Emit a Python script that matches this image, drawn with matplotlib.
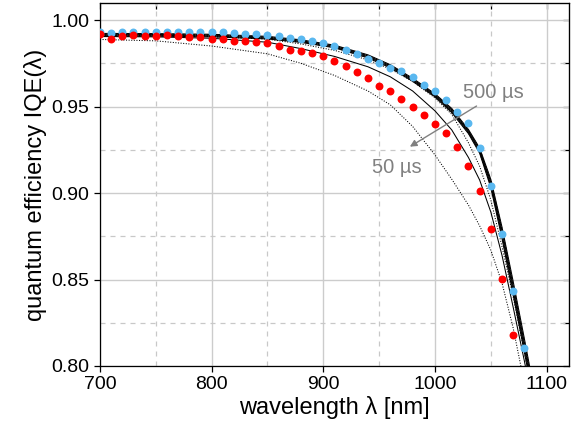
import numpy as np
import matplotlib
matplotlib.use('Agg')
import matplotlib.pyplot as plt
from matplotlib.ticker import MultipleLocator

plt.rcParams['font.family'] = ['Liberation Sans', 'DejaVu Sans']

# measured points (every 10 nm)
wl_blue = [700, 710, 720, 730, 740, 750, 760, 770, 780, 790, 800, 810, 820, 830, 840,
           850, 860, 870, 880, 890, 900, 910, 920, 930, 940, 950, 960, 970, 980, 990,
           1000, 1010, 1020, 1030, 1040, 1050, 1060, 1070, 1080]
iqe_blue = [0.9932, 0.9927, 0.9929, 0.9931, 0.9929, 0.9931, 0.9932, 0.9931, 0.9929, 0.9931,
            0.9929, 0.9929, 0.9923, 0.9919, 0.9917, 0.9911, 0.9908, 0.9894, 0.9890, 0.9877,
            0.9865, 0.9850, 0.9825, 0.9805, 0.9777, 0.9753, 0.9725, 0.9705, 0.9670, 0.9626,
            0.9590, 0.9538, 0.9470, 0.9407, 0.9258, 0.9042, 0.8763, 0.8435, 0.8102]

wl_red = [700, 710, 720, 730, 740, 750, 760, 770, 780, 790, 800, 810, 820, 830, 840,
          850, 860, 870, 880, 890, 900, 910, 920, 930, 940, 950, 960, 970, 980, 990,
          1000, 1010, 1020, 1030, 1040, 1050, 1060, 1070]
iqe_red = [0.9917, 0.9892, 0.9908, 0.9911, 0.9910, 0.9908, 0.9911, 0.9910, 0.9904, 0.9904,
           0.9890, 0.9888, 0.9880, 0.9877, 0.9875, 0.9870, 0.9852, 0.9827, 0.9823, 0.9811,
           0.9792, 0.9763, 0.9735, 0.9699, 0.9665, 0.9621, 0.9588, 0.9542, 0.9500, 0.9453,
           0.9401, 0.9345, 0.9268, 0.9158, 0.9009, 0.8794, 0.8503, 0.8179]

# simulated curves, 50 us ... 500 us
wl_sim = [700, 750, 800, 850, 880, 910, 940, 960, 980, 1000, 1015, 1030, 1040, 1050,
          1060, 1070, 1080, 1090]
sim_050 = [0.9888, 0.9880, 0.9850, 0.9805, 0.9750, 0.9680, 0.9590, 0.9510, 0.9385, 0.9220,
           0.9080, 0.8930, 0.8810, 0.8670, 0.8480, 0.8220, 0.7900, 0.7550]
sim_100 = [0.9905, 0.9903, 0.9895, 0.9872, 0.9835, 0.9790, 0.9730, 0.9672, 0.9590, 0.9475,
           0.9365, 0.9205, 0.9075, 0.8890, 0.8640, 0.8340, 0.8030, 0.7700]
sim_150 = [0.9911, 0.9910, 0.9905, 0.9890, 0.9862, 0.9825, 0.9770, 0.9717, 0.9645, 0.9550,
           0.9455, 0.9290, 0.9155, 0.8960, 0.8690, 0.8400, 0.8080, 0.7750]
sim_200 = [0.9908, 0.9907, 0.9903, 0.9891, 0.9871, 0.9840, 0.9781, 0.9724, 0.9646, 0.9556,
           0.9465, 0.9343, 0.9230, 0.9031, 0.8737, 0.8411, 0.8081, 0.7741]
sim_250 = [0.9910, 0.9909, 0.9905, 0.9893, 0.9873, 0.9842, 0.9784, 0.9727, 0.9649, 0.9559,
           0.9469, 0.9347, 0.9235, 0.9039, 0.8748, 0.8424, 0.8094, 0.7754]
sim_300 = [0.9913, 0.9912, 0.9908, 0.9896, 0.9876, 0.9845, 0.9787, 0.9730, 0.9652, 0.9562,
           0.9473, 0.9351, 0.9240, 0.9047, 0.8759, 0.8437, 0.8107, 0.7767]
sim_350 = [0.9915, 0.9914, 0.9910, 0.9898, 0.9878, 0.9847, 0.9790, 0.9733, 0.9655, 0.9565,
           0.9477, 0.9355, 0.9245, 0.9055, 0.8770, 0.8450, 0.8120, 0.7780]
sim_400 = [0.9918, 0.9917, 0.9913, 0.9901, 0.9881, 0.9850, 0.9793, 0.9736, 0.9658, 0.9568,
           0.9481, 0.9359, 0.9250, 0.9063, 0.8781, 0.8463, 0.8133, 0.7793]
sim_450 = [0.9920, 0.9919, 0.9915, 0.9903, 0.9883, 0.9852, 0.9796, 0.9739, 0.9661, 0.9571,
           0.9485, 0.9363, 0.9255, 0.9071, 0.8792, 0.8476, 0.8146, 0.7806]
sim_500 = [0.9923, 0.9922, 0.9918, 0.9906, 0.9886, 0.9855, 0.9799, 0.9742, 0.9664, 0.9574,
           0.9489, 0.9367, 0.9260, 0.9079, 0.8803, 0.8489, 0.8159, 0.7819]

sims = [sim_050, sim_100, sim_150, sim_200, sim_250, sim_300, sim_350, sim_400, sim_450, sim_500]

fig = plt.figure(figsize=(5.86, 4.36), dpi=100)
ax = fig.add_axes([0.1706, 0.1606, 0.8004, 0.8318])

for i, s in enumerate(sims):
    if i % 2 == 0:
        ax.plot(wl_sim, s, color='black', lw=0.75, ls=(0, (1, 1.5)), zorder=3)
    else:
        ax.plot(wl_sim, s, color='black', lw=0.75, ls='-', zorder=3)

ax.plot(wl_blue, iqe_blue, 'o', color='#5ab8f0', ms=5.7, mec='none', zorder=4)
ax.plot(wl_red, iqe_red, 'o', color='#ff0000', ms=5.7, mec='none', zorder=5)

ax.set_xlim(700, 1120)
ax.set_ylim(0.80, 1.0097)
ax.xaxis.set_major_locator(MultipleLocator(100))
ax.xaxis.set_minor_locator(MultipleLocator(50))
ax.yaxis.set_major_locator(MultipleLocator(0.05))
ax.yaxis.set_minor_locator(MultipleLocator(0.025))
ax.yaxis.set_major_formatter(matplotlib.ticker.FormatStrFormatter('%.2f'))

ax.grid(which='major', color='#cccccc', lw=1.0, ls='-', zorder=0)
ax.grid(which='minor', color='#c8c8c8', lw=0.9, ls=(0, (4, 4)), zorder=0)
ax.set_axisbelow(True)

ax.tick_params(which='major', direction='out', length=4, width=0.9, labelsize=14)
ax.tick_params(which='minor', length=0)
for sp in ax.spines.values():
    sp.set_linewidth(0.9)

top = ax.secondary_xaxis('top')
top.xaxis.set_major_locator(MultipleLocator(50))
top.tick_params(direction='in', length=4, width=0.9, labeltop=False)
right = ax.secondary_yaxis('right')
right.yaxis.set_major_locator(MultipleLocator(0.025))
right.tick_params(direction='in', length=4, width=0.9, labelright=False)

ax.set_xlabel('wavelength λ [nm]', fontsize=17, labelpad=2)
ax.set_ylabel('quantum efficiency IQE(λ)', fontsize=17, labelpad=3)

ax.annotate('', xy=(977.5, 0.9268), xytext=(1037.2, 0.9503),
            arrowprops=dict(arrowstyle='-|>', color='#808080', lw=1.0, mutation_scale=10,
                            shrinkA=0, shrinkB=0),
            zorder=6)
ax.text(1052.7, 0.9584, '500 µs', color='#808080', fontsize=14.5, ha='center', va='center', zorder=6)
ax.text(965.9, 0.9150, '50 µs', color='#808080', fontsize=14.5, ha='center', va='center', zorder=6)

fig.savefig('out.png', dpi=100)
